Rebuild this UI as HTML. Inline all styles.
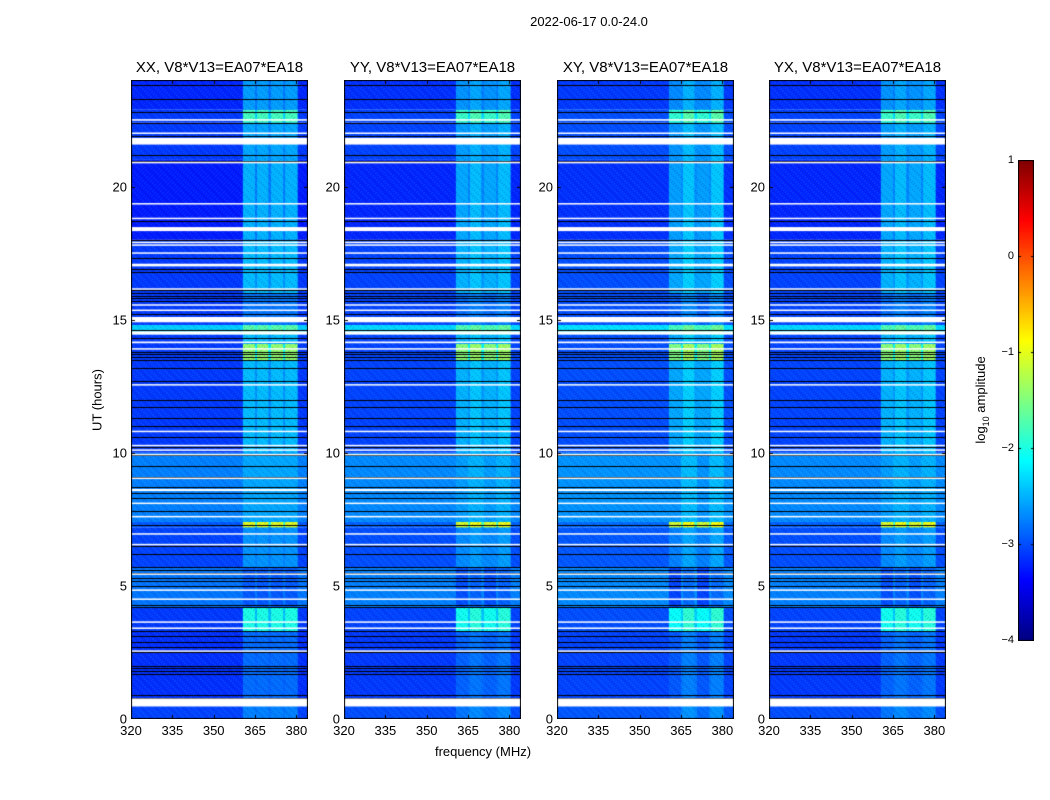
<!DOCTYPE html>
<html><head><meta charset="utf-8"><style>
body{margin:0;background:#fff;font-family:"Liberation Sans",sans-serif;}
#root{position:relative;width:1050px;height:800px;overflow:hidden;background:#fff}
.t{position:absolute;font-size:13px;color:#000;white-space:nowrap}
.pt{position:absolute;font-size:15px;color:#000;white-space:nowrap;transform:translateX(-50%)}
canvas{position:absolute}
</style></head><body>
<div id="root">
<div class="t" style="left:589px;top:14px;transform:translateX(-50%)">2022-06-17 0.0-24.0</div>
<div class="t" style="left:97px;top:400px;transform:translate(-50%,-50%) rotate(-90deg)">UT (hours)</div>
<div class="t" style="left:483px;top:744px;transform:translateX(-50%)">frequency (MHz)</div>
<div class="t" style="left:982px;top:400px;transform:translate(-50%,-50%) rotate(-90deg)">log<sub style="font-size:9px">10</sub> amplitude</div>
</div>
<script>
// ---- data ----
const panelTitles=["XX, V8*V13=EA07*EA18","YY, V8*V13=EA07*EA18","XY, V8*V13=EA07*EA18","YX, V8*V13=EA07*EA18"];
const panelOffsets=[0,0.05,0.1,0.05];
const xTicks=[320,335,350,365,380];
const yTicks=[0,5,10,15,20];
const cbTicks=[1,0,-1,-2,-3,-4];
// time segments: [startHour,endHour,baseLog10,bandLog10]
const segStart=[0,0.75,3.3,4.2,5.7,7.2,7.4,10,13.45,14.1,14.45,14.8,16,18,21,22.4,22.9];
const segEnd=[0.75,3.3,4.2,5.7,7.2,7.4,10,13.45,14.1,14.45,14.8,16,18,21,22.4,22.9,24];
const segBase=[-3.05,-3.15,-3.1,-2.8,-3.05,-2.95,-2.75,-3.1,-3.1,-3.1,-2.35,-3.1,-3.1,-3.25,-3.1,-3.1,-3.2];
const segBand=[-2.75,-2.85,-2.0,-2.95,-2.65,-1.0,-2.55,-2.45,-1.4,-2.45,-1.7,-2.8,-2.45,-2.5,-2.55,-1.8,-2.6];
// frequency bands (MHz)
const bandStart=[360.6,365.7,370.8,375.9];
const bandEnd=[365.0,369.8,375.2,380.4];
// flagged (white) rows: hour centre & width
const whiteHours=[0.62,2.55,3.41,3.64,4.5,4.84,5.44,6.55,6.95,7.6,8.1,8.6,9.04,9.93,10.1,10.27,10.8,12.55,13.9,14.15,14.5,15.0,15.35,15.55,16.15,17.05,17.5,17.8,17.9,18.4,18.8,19.35,20.9,21.7,22.0,22.5];
const whiteWidths=[0.3,0.05,0.05,0.05,0.05,0.05,0.05,0.05,0.05,0.05,0.05,0.08,0.05,0.05,0.05,0.05,0.05,0.05,0.05,0.05,0.12,0.2,0.05,0.05,0.05,0.1,0.05,0.05,0.05,0.15,0.05,0.05,0.06,0.25,0.05,0.06];
// black lines (hours)
const blackHours=[0.8,0.9,1.7,1.8,1.9,2.0,2.5,2.7,2.9,3.1,3.3,4.2,4.3,5.0,5.2,5.3,5.5,5.6,5.7,6.2,6.5,7.3,7.8,8.3,8.5,8.7,9.1,9.5,9.9,10.2,10.6,11.0,11.3,11.7,12.0,12.7,13.2,13.5,13.6,13.7,13.8,14.3,14.6,15.2,15.7,15.8,15.9,16.0,16.1,16.8,16.9,17.3,18.0,18.7,20.95,21.2,21.9,22.4,22.8,23.3,23.8];

const panelLeft=[131,344,557,769];
const PW=177,PH=639,TOP=80;
const F0=320,F1=384.2,H0=0,H1=24;
function jet(v){v=Math.max(0,Math.min(1,v));
 const r=Math.min(4*v-1.5,-4*v+4.5),g=Math.min(4*v-0.5,-4*v+3.5),b=Math.min(4*v+0.5,-4*v+2.5);
 const c=x=>Math.round(255*Math.max(0,Math.min(1,x)));return `rgb(${c(r)},${c(g)},${c(b)})`;}
function cmap(l){return jet((l+4)/5);}
const root=document.getElementById('root');
function txt(s,x,y,align,name){const d=document.createElement('div');d.className='t';d.textContent=s;
 d.style.left=x+'px';d.style.top=y+'px';
 d.style.transform=align==='c'?'translateX(-50%)':align==='r'?'translate(-100%,-50%)':'translateY(-50%)';
 
 
 root.appendChild(d);}
panelLeft.forEach((L,p)=>{
 const xs=f=>(f-F0)/(F1-F0)*PW, ys=h=>PH-(h-H0)/(H1-H0)*PH;
 const cv=document.createElement('canvas');cv.width=PW;cv.height=PH;
 cv.style.left=L+'px';cv.style.top=TOP+'px';
 
 
 root.appendChild(cv);
 const g=cv.getContext('2d');
 const off=panelOffsets[p];
 for(let s=0;s<segStart.length;s++){
  const y0=ys(segEnd[s]),y1=ys(segStart[s]);
  g.fillStyle=cmap(segBase[s]+off);g.fillRect(0,y0,PW,y1-y0);
  const gapV=(segBase[s]+segBand[s])/2+0.1;
  g.fillStyle=cmap(Math.max(segBase[s],gapV)+off);
  g.fillRect(xs(bandStart[0]),y0,xs(bandEnd[3])-xs(bandStart[0]),y1-y0);
  for(let b=0;b<bandStart.length;b++){
   g.fillStyle=cmap(segBand[s]+off*(b%2?1:-1));
   g.fillRect(xs(bandStart[b]),y0,xs(bandEnd[b])-xs(bandStart[b]),y1-y0);}
 }
 // subtle speckle texture (decorative, fixed pattern)
 for(let y=0;y<PH;y+=1)for(let x=(y*7)%4;x<PW;x+=4){
  g.fillStyle=((x*13+y*29)%7<3)?'rgba(0,0,110,0.22)':'rgba(80,200,255,0.18)';g.fillRect(x,y,1,1);}
 g.fillStyle='#000';
 blackHours.forEach(h=>g.fillRect(0,Math.round(ys(h)),PW,1));
 g.fillStyle='#fff';
 whiteHours.forEach((h,i)=>{const hh=Math.max(1.5,whiteWidths[i]/(H1-H0)*PH);g.fillRect(0,ys(h)-hh/2,PW,hh);});
 // ticks
 g.fillStyle='#000';
 xTicks.forEach(t=>{const x=Math.round(xs(t));g.fillRect(x,PH-4,1,4);g.fillRect(x,0,1,4);});
 yTicks.forEach(t=>{const y=Math.round(ys(t));g.fillRect(0,y,4,1);g.fillRect(PW-4,y,4,1);});
 g.strokeStyle='#000';g.lineWidth=1;g.strokeRect(0.5,0.5,PW-1,PH-1);
 xTicks.forEach(t=>txt(String(t),L+xs(t),TOP+PH+4,'c','x-tick-label'));
 yTicks.forEach(t=>txt(String(t),L-4,TOP+ys(t),'r','y-tick-label'));
 const pt=document.createElement('div');pt.className='pt';pt.textContent=panelTitles[p];
 pt.style.left=(L+PW/2)+'px';pt.style.top='59px';
 
 
 root.appendChild(pt);
});
// colorbar
const cb=document.createElement('canvas');cb.width=16;cb.height=481;
cb.style.left='1018px';cb.style.top='160px';


root.appendChild(cb);
const cg=cb.getContext('2d');
for(let y=0;y<481;y++){cg.fillStyle=jet(1-y/480);cg.fillRect(0,y,16,1);}
cg.strokeStyle='#000';cg.strokeRect(0.5,0.5,15,480);
cbTicks.forEach(t=>{const y=160+(1-t)/5*480;
 cg.fillStyle='#000';cg.fillRect(0,y-160,3,1);cg.fillRect(13,y-160,3,1);
 const d=document.createElement('div');d.className='t';d.style.fontSize='11px';
 d.textContent=t<0?'\u2212'+(-t):String(t);d.style.left='1014px';d.style.top=y+'px';
 d.style.transform='translate(-100%,-50%)';
 
 
 root.appendChild(d);});
</script>
</body></html>
